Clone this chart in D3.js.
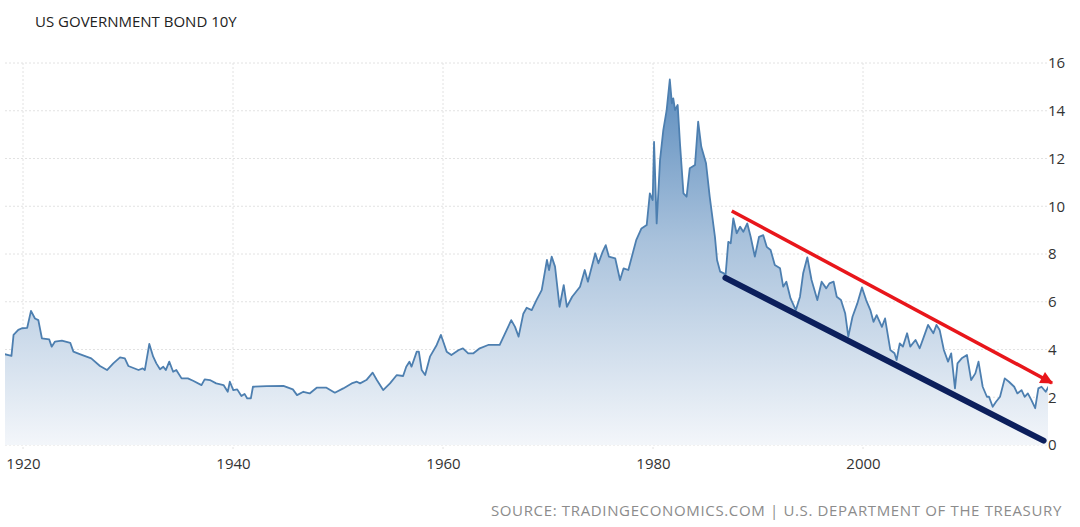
<!DOCTYPE html>
<html>
<head>
<meta charset="utf-8">
<script src="https://cdn.jsdelivr.net/npm/d3@7"></script>
<style>
  html, body { margin: 0; padding: 0; background: #fff; }
  svg { display: block; }
  text { font-family: "Open Sans", "DejaVu Sans", sans-serif; }
</style>
</head>
<body>
<div id="chart"></div>
<script>
// ---- data ----
const chartTitle = "US GOVERNMENT BOND 10Y";
const sourceText = "SOURCE: TRADINGECONOMICS.COM | U.S. DEPARTMENT OF THE TREASURY";

const dates = [
  1918.2, 1918.9, 1919.1, 1919.55, 1919.9, 1920.4, 1920.76, 1921.14, 1921.46, 1921.8,
  1922.5, 1922.73, 1923.05, 1923.7, 1924.5, 1924.8, 1925.4, 1926.5, 1927.33, 1928.0,
  1928.6, 1929.24, 1929.7, 1930.03, 1931.0, 1931.4, 1931.6, 1932.03, 1932.4, 1932.7,
  1933.05, 1933.36, 1933.6, 1933.93, 1934.3, 1934.6, 1935.1, 1935.7, 1936.2, 1937.0,
  1937.3, 1937.8, 1938.4, 1939.1, 1939.5, 1939.7, 1940.03, 1940.4, 1940.8, 1941.1,
  1941.36, 1941.7, 1941.9, 1943.2, 1944.8, 1945.7, 1946.1, 1946.7, 1947.3, 1947.97,
  1948.9, 1949.7, 1950.5, 1951.3, 1951.8, 1952.1, 1952.7, 1953.3, 1953.7, 1954.3,
  1954.95, 1955.6, 1956.2, 1956.5, 1956.8, 1957.0, 1957.5, 1957.7, 1957.97, 1958.3,
  1958.76, 1959.4, 1959.8, 1959.97, 1960.35, 1960.8, 1961.5, 1961.9, 1962.4, 1962.9,
  1963.5, 1964.3, 1965.4, 1966.07, 1966.5, 1966.86, 1967.2, 1967.65, 1967.97, 1968.45,
  1968.9, 1969.4, 1969.9, 1970.1, 1970.35, 1970.67, 1971.1, 1971.5, 1971.8, 1972.3,
  1973.05, 1973.5, 1973.8, 1974.5, 1974.8, 1975.2, 1975.5, 1975.8, 1976.4, 1976.86,
  1977.2, 1977.65, 1978.4, 1978.9, 1979.4, 1979.7, 1979.97, 1980.1, 1980.35, 1980.67,
  1980.98, 1981.3, 1981.6, 1981.8, 1981.93, 1982.1, 1982.35, 1982.57, 1982.9, 1983.2,
  1983.5, 1984.0, 1984.3, 1984.6, 1985.05, 1985.4, 1985.9, 1986.1, 1986.4, 1986.76,
  1986.9, 1987.17, 1987.4, 1987.65, 1987.97, 1988.3, 1988.6, 1988.98, 1989.3, 1989.7,
  1990.1, 1990.5, 1990.83, 1991.2, 1991.6, 1992.1, 1992.4, 1992.7, 1993.1, 1993.6,
  1994.0, 1994.3, 1994.7, 1995.1, 1995.65, 1996.06, 1996.5, 1996.8, 1997.2, 1997.5,
  1997.9, 1998.3, 1998.6, 1999.0, 1999.46, 1999.9, 2000.3, 2000.7, 2001.0, 2001.3,
  2001.8, 2002.1, 2002.6, 2003.0, 2003.2, 2003.5, 2003.8, 2004.2, 2004.5, 2005.0,
  2005.4, 2005.8, 2006.2, 2006.7, 2007.0, 2007.3, 2007.7, 2008.1, 2008.4, 2008.76,
  2009.0, 2009.4, 2009.9, 2010.3, 2010.7, 2011.0, 2011.4, 2011.8, 2012.0, 2012.35,
  2012.67, 2013.05, 2013.5, 2013.9, 2014.4, 2014.7, 2015.1, 2015.4, 2015.7, 2016.04,
  2016.4, 2016.7, 2017.0, 2017.4, 2017.7
];
const yields = [
  3.81, 3.73, 4.61, 4.82, 4.89, 4.91, 5.62, 5.30, 5.23, 4.47,
  4.42, 4.12, 4.33, 4.37, 4.28, 3.91, 3.81, 3.63, 3.31, 3.14,
  3.42, 3.67, 3.63, 3.31, 3.14, 3.21, 3.14, 4.23, 3.70, 3.42,
  3.17, 3.28, 3.14, 3.49, 3.07, 3.14, 2.79, 2.79, 2.69, 2.51,
  2.75, 2.72, 2.58, 2.51, 2.23, 2.65, 2.30, 2.33, 2.05, 2.14,
  1.95, 1.95, 2.44, 2.47, 2.48, 2.33, 2.09, 2.23, 2.16, 2.40,
  2.40, 2.19, 2.37, 2.58, 2.65, 2.58, 2.72, 3.03, 2.72, 2.30,
  2.58, 2.93, 2.89, 3.28, 3.49, 3.28, 3.91, 3.91, 3.14, 2.93,
  3.70, 4.19, 4.61, 4.40, 3.91, 3.77, 3.98, 4.05, 3.84, 3.84,
  4.05, 4.19, 4.19, 4.82, 5.23, 4.95, 4.54, 5.50, 5.75, 5.65,
  6.07, 6.49, 7.75, 7.33, 7.89, 7.47, 5.79, 6.70, 5.79, 6.21,
  6.63, 7.33, 6.84, 8.03, 7.61, 8.09, 8.37, 7.89, 7.82, 6.91,
  7.40, 7.33, 8.58, 9.07, 9.21, 10.54, 10.26, 12.70, 9.28, 11.93,
  13.19, 14.03, 15.31, 14.31, 14.52, 14.03, 14.24, 12.63, 10.54, 10.40,
  11.59, 11.73, 13.54, 12.49, 11.80, 10.40, 8.72, 7.75, 7.26, 7.19,
  7.05, 8.51, 8.45, 9.49, 8.87, 9.14, 8.93, 9.28, 8.72, 7.89,
  8.72, 8.79, 8.30, 8.17, 7.54, 7.40, 6.63, 6.84, 6.14, 5.65,
  6.21, 7.19, 7.86, 6.91, 6.07, 6.84, 6.56, 6.77, 6.84, 6.21,
  6.07, 5.52, 4.54, 5.37, 5.93, 6.60, 6.07, 5.65, 5.16, 5.44,
  4.95, 5.30, 3.98, 3.84, 3.56, 4.26, 4.12, 4.68, 4.12, 4.40,
  4.05, 4.54, 5.03, 4.68, 5.03, 4.82, 3.98, 3.49, 3.84, 2.37,
  3.42, 3.63, 3.77, 2.72, 3.00, 3.49, 2.44, 2.02, 2.02, 1.60,
  1.81, 2.02, 2.79, 2.65, 2.44, 2.16, 2.30, 2.02, 2.16, 1.88,
  1.54, 2.37, 2.44, 2.23, 2.47
];

const xTicks = [1920, 1940, 1960, 1980, 2000];
const yTicks = [0, 2, 4, 6, 8, 10, 12, 14, 16];

// channel annotations: [year, yield]
const upperTrend = [[1987.5, 9.8], [2018.0, 2.6]];
const lowerTrend = [[1986.9, 7.0], [2017.2, 0.18]];

// ---- layout ----
const W = 1080, H = 527;
const plot = { left: 5, right: 1048, top: 63, bottom: 445 };

const x = d3.scaleLinear().domain([1920, 2000]).range([23, 863]);
const y = d3.scaleLinear().domain([0, 16]).range([plot.bottom, plot.top]);

const svg = d3.select("#chart").append("svg")
  .attr("width", W).attr("height", H);

svg.append("rect").attr("width", W).attr("height", H).attr("fill", "#fff");

const defs = svg.append("defs");
const grad = defs.append("linearGradient")
  .attr("id", "areaGrad")
  .attr("gradientUnits", "userSpaceOnUse")
  .attr("x1", 0).attr("x2", 0)
  .attr("y1", y(15.5)).attr("y2", y(0));
grad.append("stop").attr("offset", "0%").attr("stop-color", "#5a8bbd");
grad.append("stop").attr("offset", "45%").attr("stop-color", "#a9c2dc");
grad.append("stop").attr("offset", "100%").attr("stop-color", "#f3f6fa");

defs.append("clipPath").attr("id", "plotClip")
  .append("rect")
  .attr("x", plot.left).attr("y", 0)
  .attr("width", plot.right - plot.left).attr("height", plot.bottom + 1);

defs.append("marker")
  .attr("id", "arrowRed")
  .attr("viewBox", "0 0 10 10")
  .attr("refX", 9).attr("refY", 5)
  .attr("markerWidth", 4.2).attr("markerHeight", 3.6)
  .attr("markerUnits", "strokeWidth")
  .attr("orient", "auto")
  .append("path")
  .attr("d", "M0,0 L10,5 L0,10 Z")
  .attr("fill", "#e8161b");

// ---- gridlines ----
const grid = svg.append("g");
grid.selectAll("line.h").data(yTicks).join("line")
  .attr("class", "h")
  .attr("x1", plot.left).attr("x2", plot.right)
  .attr("y1", d => y(d)).attr("y2", d => y(d))
  .attr("stroke", "#e2e2e2").attr("stroke-width", 1)
  .attr("stroke-dasharray", "2,2");
grid.selectAll("line.v").data(xTicks).join("line")
  .attr("class", "v")
  .attr("x1", d => x(d)).attr("x2", d => x(d))
  .attr("y1", plot.top).attr("y2", plot.bottom + 5)
  .attr("stroke", "#e2e2e2").attr("stroke-width", 1)
  .attr("stroke-dasharray", "2,2");

// ---- area + line ----
const series = dates.map((d, i) => ({ t: d, v: yields[i] }));
const gData = svg.append("g").attr("clip-path", "url(#plotClip)");

gData.append("path")
  .datum(series)
  .attr("fill", "url(#areaGrad)")
  .attr("d", d3.area().x(d => x(d.t)).y0(y(0)).y1(d => y(d.v)));

gData.append("path")
  .datum(series)
  .attr("fill", "none")
  .attr("stroke", "#4d7fb0")
  .attr("stroke-width", 1.8)
  .attr("stroke-linejoin", "round")
  .attr("d", d3.line().x(d => x(d.t)).y(d => y(d.v)));

// ---- trend channel ----
const tl = d3.line().x(d => x(d[0])).y(d => y(d[1]));
svg.append("path")
  .datum(lowerTrend)
  .attr("fill", "none")
  .attr("stroke", "#0c1f5c")
  .attr("stroke-width", 6)
  .attr("stroke-linecap", "round")
  .attr("d", tl);
svg.append("path")
  .datum(upperTrend)
  .attr("fill", "none")
  .attr("stroke", "#e8161b")
  .attr("stroke-width", 3.5)
  .attr("marker-end", "url(#arrowRed)")
  .attr("d", tl);

// ---- axes ----
const xAxis = d3.axisBottom(x).tickValues(xTicks).tickFormat(d3.format("d")).tickSize(0).tickPadding(0);
const gx = svg.append("g").attr("transform", `translate(0, 469)`).call(xAxis);
gx.select(".domain").remove();
gx.selectAll("text")
  .attr("dy", 0)
  .attr("font-size", 15)
  .attr("fill", "#333")
  .style("font-family", "'Open Sans', 'DejaVu Sans', sans-serif");

const yAxis = d3.axisRight(y).tickValues(yTicks).tickFormat(d3.format("d")).tickSize(0).tickPadding(0);
const gy = svg.append("g").attr("transform", `translate(1048, 0)`).call(yAxis);
gy.select(".domain").remove();
gy.selectAll("text")
  .attr("font-size", 15)
  .attr("fill", "#333")
  .style("font-family", "'Open Sans', 'DejaVu Sans', sans-serif");

// ---- texts ----
svg.append("text")
  .attr("x", 35).attr("y", 27)
  .attr("font-size", 15)
  .attr("fill", "#222")
  .text(chartTitle);

svg.append("text")
  .attr("x", 1062).attr("y", 516)
  .attr("text-anchor", "end")
  .attr("font-size", 15)
  .attr("letter-spacing", "0.65px")
  .attr("fill", "#8c8c8c")
  .text(sourceText);
</script>
</body>
</html>
